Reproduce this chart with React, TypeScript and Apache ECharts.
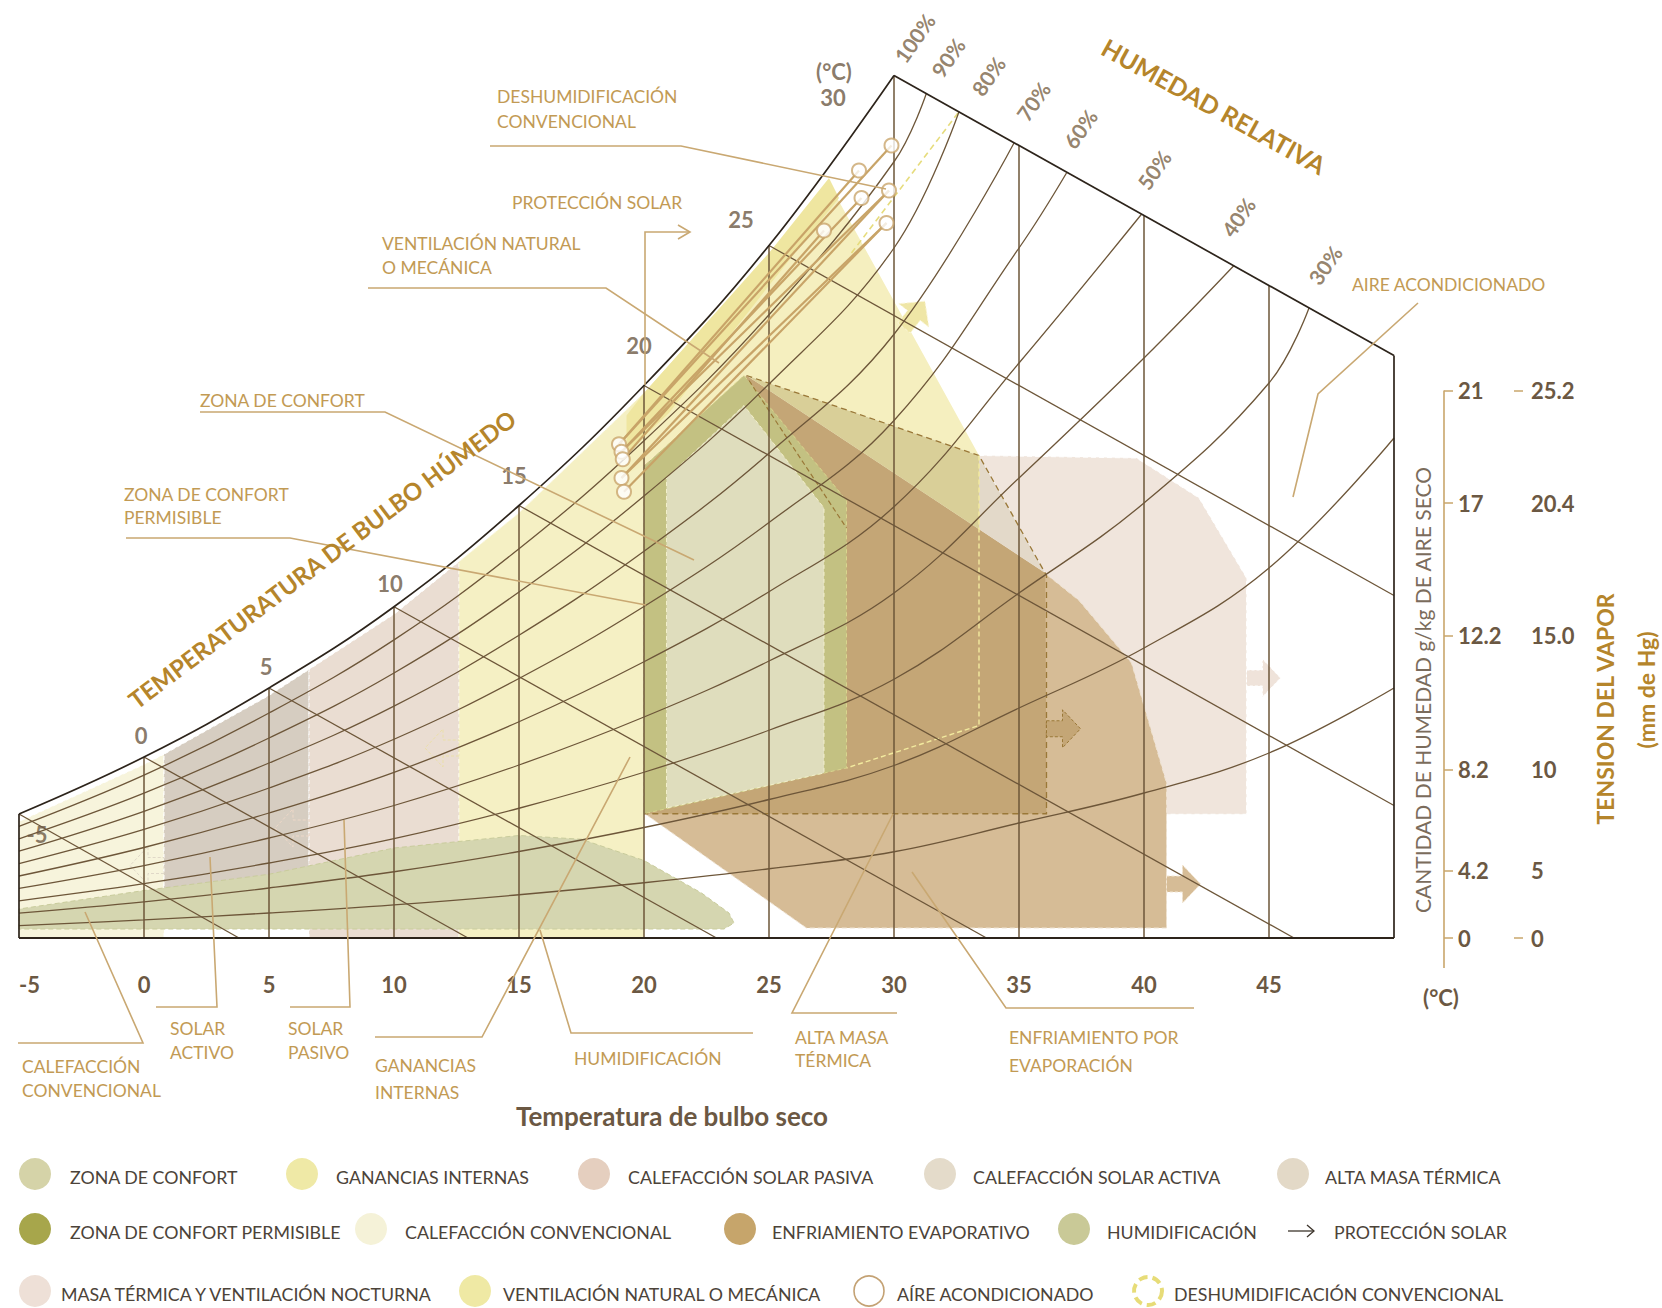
import React, { useEffect, useRef } from "react";
import * as echarts from "echarts";

const FONT = "Lato, 'Open Sans', 'DejaVu Sans', sans-serif";

/* ================= DATA ================= */
// dry-bulb temperature ticks (°C)
const dryBulbTicks = [-5, 0, 5, 10, 15, 20, 25, 30, 35, 40, 45];

// saturation curve (100 % RH): dry-bulb temperature and moisture level (chart units)
const satT = [-5, 0, 5, 10, 15, 20, 25, 30, 35, 40, 45, 50];
const satH = [4.96, 7.24, 10.0, 13.25, 17.3, 22.1, 27.7, 34.5, 46, 58, 74, 100];

// chart frame: 30 °C wet-bulb line on top, axes
const topEdge = [[30, 34.5], [50, 23.3]];
const frameBottom = [[-5, 0], [50, 0]];
const frameLeft = [[-5, 0], [-5, 4.96]];
const frameRight = [[50, 0], [50, 23.3]];

// relative humidity curves and the point where each one stops
const rhLevels = [90, 80, 70, 60, 50, 40, 30, 20, 10];
const rhEnds = [[31.3, 33.8], [32.6, 33.05], [34.8, 31.8], [36.9, 30.6], [39.9, 28.95], [43.6, 26.9], [46.6, 25.2], [50, 20], [50, 10]];
const rhLabels = ["100%", "90%", "80%", "70%", "60%", "50%", "40%", "30%"];

// wet-bulb lines (start on saturation curve at satT, end points read)
const wetBulbT = [-5, 0, 5, 10, 15, 20, 25];
const wetBulbEnds = [[3.8, 0], [12.96, 0], [22.9, 0], [33.7, 0], [46, 0], [50, 5.3], [50, 13.7]];
const wetBulbLabels = ["-5", "0", "5", "10", "15", "20", "25", "30", "(°C)"];

// dry-bulb vertical lines and their top ends
const dryBulbLineT = [0, 5, 10, 15, 20, 25, 30, 35, 40, 45];
const dryBulbLineTop = [7.24, 10.0, 13.25, 17.3, 22.1, 27.7, 34.5, 31.7, 28.9, 26.1];

// right-hand scales
const scaleLevels = [0, 2.7, 6.75, 12.1, 17.4, 21.9];
const humidityLabels = ["0", "4.2", "8.2", "12.2", "17", "21"];
const vaporLabels = ["0", "5", "10", "15.0", "20.4", "25.2"];
const humidityAxisT = 52;
const vaporAxisT = 54.8;
const scaleAxisRange = [-1.2, 21.9];

// bioclimatic zones (dry-bulb °C, moisture level)
const zoneCalefConv = [[-5, 0], [-5, 4.66], [0, 6.94], [0.8, 7.35], [0.8, 0]];
const zoneSolarActiva = [[0.8, 0.4], [0.8, 7.35], [5, 9.7], [6.6, 10.74], [6.6, 0.4]];
const zoneSolarPasiva = [[6.6, 0], [6.6, 10.74], [10, 12.95], [12.6, 15.05], [12.6, 0]];
const zoneGanancias = [[12.6, 0], [12.6, 15.05], [15, 17.0], [20, 21.8], [20, 0]];
const zoneHumid = [[-5, 0.36], [-5, 1.16], [0, 1.9], [5, 2.55], [10, 3.6], [15, 4.1], [17.5, 3.95], [20, 3.1], [22.3, 1.8], [23.4, 1.0], [23.6, 0.6], [23.2, 0.36]];
const zoneNocturna = [[33.4, 19.3], [39.7, 19.2], [42.2, 17.6], [44.1, 14.4], [44.1, 4.95], [36.1, 4.95], [36.1, 14.5]];
const zoneEvap = [[24.4, 22.3], [35.9, 14.7], [37.4, 13.5], [39.5, 11.0], [40.9, 6.2], [40.9, 0.4], [26.5, 0.4], [20, 5.0], [20, 18.9]];
const zoneMasaEvap = [[20, 4.97], [20, 18.9], [24.1, 22.5], [24.4, 22.3], [36.05, 14.6], [36.1, 4.97]];
const zoneMasaOnly = [[33.4, 19.3], [36.05, 14.6], [33.4, 16.35]];
const zoneVentMasa = [[24.1, 22.5], [33.4, 19.3], [33.4, 16.35], [24.4, 22.3]];
const zoneVent = [[19.4, 21.2], [20, 21.8], [25, 27.4], [27.56, 29.9], [33.4, 19.3], [24.1, 22.5], [20, 18.9], [19.4, 18.6]];
const zoneDeshum = [[19.3, 20.9], [20, 21.8], [25, 27.4], [27.4, 30.4], [27.8, 29.6], [25, 26.1], [21, 21.0], [19.3, 19.4]];
const zonePermisible = [[20, 4.97], [20, 18.87], [24.0, 22.5], [28.1, 17.5], [28.1, 6.8]];
const zoneConfort = [[20.9, 5.2], [20.9, 18.4], [24.0, 21.3], [27.2, 17.2], [27.2, 6.6]];
const outlineMasa = [[24.1, 22.5], [33.4, 19.3], [36.1, 14.5], [36.1, 4.97], [20, 4.97]];
const outlineMasaDiag = [[24.2, 22.3], [28.1, 16.4]];
const outlineVent = [[33.4, 19.3], [33.4, 8.5], [28.1, 6.8]];
const outlineDeshum = [[32.56, 33.0], [28.3, 27.4]];

// zone extension arrows: tail point and direction (degrees)
const arrowStarts = [[36.1, 8.37], [44.1, 10.4], [40.9, 2.16], [30.4, 24.4], [12.6, 7.6], [6.6, 4.4], [0.8, 2.9]];
const arrowAngles = [0, 0, 0, 52, 180, 180, 180];

// air-conditioning process lines
const acLow = [[19.0, 19.75], [19.1, 19.45], [19.15, 19.15], [19.1, 18.4], [19.2, 17.85]];
const acHigh = [[29.9, 31.7], [28.6, 30.7], [29.8, 29.9], [28.7, 29.6], [27.2, 28.3], [29.7, 28.6]];
const acLinks = [[0, 0], [0, 1], [1, 3], [2, 4], [1, 2], [3, 5], [4, 5], [3, 2]];

/* ================= LAYOUT / STYLE ================= */
const PX = 25; // px per °C
const X_MIN = -5, X_MAX = 52, Y_MIN = -1.2, Y_MAX = 36;
const GRID_LEFT = 19, GRID_TOP = 38;
const W = 1662, H = 1308;
const GRID_RIGHT = W - (GRID_LEFT + (X_MAX - X_MIN) * PX);
const GRID_BOTTOM = H - (GRID_TOP + (Y_MAX - Y_MIN) * PX);

const COL = {
  line: "#6d5639",
  frame: "#2d241b",
  gold: "#b5852b",
  num: "#6b5843",
  rhNum: "#7a6447",
  annText: "#c29a54",
  annLine: "#c9a872",
  legendText: "#4c4339",
  tanAxis: "#c9a66b",
};

const rhLabelPos = [[30.82, 36.0], [32.16, 35.22], [33.77, 34.48], [35.57, 33.47], [37.45, 32.37], [40.4, 30.73], [43.77, 28.84], [47.24, 26.92]];
const wetLabelOffset = [[18, 20], [-3, -22], [-3, -22], [-4, -23], [-5, -30], [-5, -40], [-28, -26], [-61, 22], [-60, -4]];

const arrowStyles = [
  { fill: "#c4a676", stroke: "#9a7838" },
  { fill: "#efe3da", stroke: "#ffffff" },
  { fill: "#d6bc96", stroke: "#f3e6d2" },
  { fill: "#efe6a6", stroke: "#fbf6d8" },
  { fill: "none", stroke: "#eadfa8" },
  { fill: "none", stroke: "#eed8c8" },
  { fill: "none", stroke: "#e0d8c8" },
];

const annotations = [
  { lines: ["DESHUMIDIFICACIÓN", "CONVENCIONAL"], x: 497, y: [96, 121], leader: [[490, 146], [681, 146], [886, 189]] },
  { lines: ["PROTECCIÓN SOLAR"], x: 512, y: [202], leader: [[645, 385], [645, 232], [690, 232]], arrow: true },
  { lines: ["VENTILACIÓN NATURAL", "O MECÁNICA"], x: 382, y: [243, 267], leader: [[368, 288], [606, 288], [719, 363]] },
  { lines: ["ZONA DE CONFORT"], x: 200, y: [400], leader: [[200, 412], [385, 412], [694, 560]] },
  { lines: ["ZONA DE CONFORT", "PERMISIBLE"], x: 124, y: [494, 517], leader: [[126, 538], [290, 538], [646, 605]] },
  { lines: ["AIRE ACONDICIONADO"], x: 1352, y: [284], leader: [[1418, 303], [1318, 394], [1293, 497]] },
  { lines: ["CALEFACCIÓN", "CONVENCIONAL"], x: 22, y: [1066, 1090], leader: [[18, 1043], [143, 1043], [85, 912]] },
  { lines: ["SOLAR", "ACTIVO"], x: 170, y: [1028, 1052], leader: [[156, 1007], [217, 1007], [210, 857]] },
  { lines: ["SOLAR", "PASIVO"], x: 288, y: [1028, 1052], leader: [[290, 1007], [350, 1007], [344, 820]] },
  { lines: ["GANANCIAS", "INTERNAS"], x: 375, y: [1065, 1092], leader: [[375, 1037], [482, 1037], [630, 757]] },
  { lines: ["HUMIDIFICACIÓN"], x: 574, y: [1058], leader: [[753, 1033], [571, 1033], [540, 930]] },
  { lines: ["ALTA MASA", "TÉRMICA"], x: 795, y: [1037, 1060], leader: [[897, 1013], [792, 1013], [893, 814]] },
  { lines: ["ENFRIAMIENTO POR", "EVAPORACIÓN"], x: 1009, y: [1037, 1065], leader: [[1194, 1008], [1006, 1008], [912, 872]] },
];

const legendNames = [
  ["ZONA DE CONFORT", "GANANCIAS INTERNAS", "CALEFACCIÓN SOLAR PASIVA", "CALEFACCIÓN SOLAR ACTIVA", "ALTA MASA TÉRMICA"],
  ["ZONA DE CONFORT PERMISIBLE", "CALEFACCIÓN CONVENCIONAL", "ENFRIAMIENTO EVAPORATIVO", "HUMIDIFICACIÓN", "PROTECCIÓN SOLAR"],
  ["MASA TÉRMICA Y VENTILACIÓN NOCTURNA", "VENTILACIÓN NATURAL O MECÁNICA", "AÍRE ACONDICIONADO", "DESHUMIDIFICACIÓN CONVENCIONAL"],
];
const legendSwatches = [
  ["#d5d3a8", "#efe9a6", "#e5cfbf", "#e4dbca", "#e3d9c7"],
  ["#a7a64b", "#f5f2d8", "#c6a56b", "#c9c997", "arrow"],
  ["#eee0d7", "#efe9a4", "ring", "dashedRing"],
];
const legendRowY = [1174, 1229, 1291];
const legendCircleX = [[35, 302, 594, 940, 1293], [35, 371, 740, 1074, 1301], [35, 475, 869, 1148]];
const legendTextX = [[70, 336, 628, 973, 1325], [70, 405, 772, 1107, 1334], [61, 503, 897, 1174]];

/* ================= BUILD ================= */
function nearestIdx(v: number) {
  let best = 0;
  scaleLevels.forEach((l, i) => {
    if (Math.abs(l - v) < Math.abs(scaleLevels[best] - v)) best = i;
  });
  return best;
}

function shapeSeries(items: any[], z: number) {
  return {
    type: "custom",
    coordinateSystem: "cartesian2d",
    z,
    silent: true,
    clip: false,
    data: items.map((it, i) => [it.pts[0][0], it.pts[0][1], i]),
    encode: { x: 0, y: 1 },
    renderItem: (params: any, api: any) => {
      const it = items[params.dataIndex];
      const points = it.pts.map((p: number[]) => api.coord(p));
      return {
        type: it.open ? "polyline" : "polygon",
        shape: { points },
        silent: true,
        style: {
          fill: it.open ? "none" : it.fill,
          stroke: it.stroke || "none",
          lineWidth: it.lw ?? 1,
          lineDash: it.dash || null,
          opacity: it.opacity ?? 1,
        },
      };
    },
  };
}

function lineS(data: number[][], color: string, width: number, smooth: any = false, z = 3) {
  return {
    type: "line",
    data,
    symbol: "none",
    silent: true,
    smooth,
    clip: false,
    lineStyle: { color, width },
    z,
  };
}

function buildOption() {
  const zoneItems = [
    { pts: zoneCalefConv, fill: "#f7f4dc", stroke: "#ffffff", dash: [4, 3] },
    { pts: zoneSolarActiva, fill: "#d6cdc1", stroke: "#ffffff", dash: [4, 3] },
    { pts: zoneSolarPasiva, fill: "#eaddd2", stroke: "#ffffff", dash: [4, 3] },
    { pts: zoneGanancias, fill: "#f5f0c4", stroke: "#fbf8e2", dash: [4, 3] },
    { pts: zoneHumid, fill: "#d5d6b0", stroke: "#c9cc9c", dash: [5, 3] },
    { pts: zoneNocturna, fill: "#f0e5dc", stroke: "#ffffff", dash: [5, 3] },
    { pts: zoneEvap, fill: "#d6bc96", stroke: "#efe3d2", dash: [5, 3] },
    { pts: zoneMasaEvap, fill: "#c4a676" },
    { pts: zoneMasaOnly, fill: "#e3d9c9" },
    { pts: zoneVent, fill: "#f5efbf" },
    { pts: zoneVentMasa, fill: "#d9cf98" },
    { pts: zoneDeshum, fill: "#efe6a0" },
    { pts: outlineMasa, open: true, stroke: "#9a7838", dash: [6, 4], lw: 1.3 },
    { pts: outlineVent, open: true, stroke: "#f2ea9e", dash: [5, 3], lw: 1.4 },
    { pts: zonePermisible, fill: "#c3c182", stroke: "#d8d58e", dash: [4, 3] },
    { pts: zoneConfort, fill: "#dfddbd", stroke: "#f2efcc", dash: [4, 3] },
    { pts: outlineMasaDiag, open: true, stroke: "#9a7838", dash: [5, 3], lw: 1.2 },
    { pts: outlineDeshum, open: true, stroke: "#e6dc7c", dash: [6, 4], lw: 1.6 },
  ];

  const series: any[] = [];
  series.push(shapeSeries(zoneItems, 1));

  // block arrows
  series.push({
    type: "custom",
    coordinateSystem: "cartesian2d",
    z: 2,
    silent: true,
    clip: false,
    data: arrowStarts.map((p, i) => [p[0], p[1], i]),
    encode: { x: 0, y: 1 },
    renderItem: (params: any, api: any) => {
      const i = params.dataIndex;
      const st = arrowStyles[i];
      const [x, y] = api.coord(arrowStarts[i]);
      const th = (arrowAngles[i] * Math.PI) / 180;
      const c = Math.cos(th), s = Math.sin(th);
      const local = [[0, -8], [16, -8], [16, -19], [34, 0], [16, 19], [16, 8], [0, 8]];
      const pts = local.map(([lx, ly]) => [x + lx * c + ly * s, y - lx * s + ly * c]);
      return {
        type: "polygon",
        shape: { points: pts },
        style: { fill: st.fill, stroke: st.stroke, lineDash: [3, 2], lineWidth: 1 },
      };
    },
  });

  // dry-bulb verticals
  dryBulbLineT.forEach((t, i) => series.push(lineS([[t, 0], [t, dryBulbLineTop[i]]], COL.line, 1.5)));
  // RH curves
  rhLevels.forEach((lv, i) => {
    const end = rhEnds[i];
    const pts = satT.map((t, j) => [t, (lv / 100) * satH[j]]).filter((p) => p[0] < end[0] - 0.01);
    pts.push(end);
    series.push(lineS(pts, COL.line, 1.3, 0.4));
  });
  // wet-bulb lines
  wetBulbT.forEach((t, i) => {
    const j = satT.indexOf(t);
    series.push(lineS([[t, satH[j]], wetBulbEnds[i]], COL.line, 1.3));
  });
  // frame
  series.push(lineS(satT.slice(0, 8).map((t, i) => [t, satH[i]]), COL.frame, 1.7, 0.4));
  series.push(lineS(topEdge, COL.frame, 1.7));
  series.push(lineS(frameBottom, COL.frame, 1.8));
  series.push(lineS(frameLeft, COL.frame, 1.7));
  series.push(lineS(frameRight, COL.frame, 1.7));
  // right scale lines
  series.push(lineS([[humidityAxisT, scaleAxisRange[0]], [humidityAxisT, scaleAxisRange[1]]], COL.tanAxis, 1.6));
  series.push(lineS([[vaporAxisT, scaleAxisRange[0]], [vaporAxisT, scaleAxisRange[1]]], COL.tanAxis, 1.6));

  // air conditioning lines & circles
  series.push(
    shapeSeries(
      acLinks.map(([a, b]) => ({ pts: [acLow[a], acHigh[b]], open: true, stroke: "#c8a468", lw: 2.2 })),
      4
    )
  );
  series.push({
    type: "scatter",
    z: 5,
    silent: true,
    clip: false,
    symbolSize: 14,
    itemStyle: { color: "#ffffff", borderColor: "#c9a56b", borderWidth: 2 },
    data: [...acLow, ...acHigh],
  });

  // wet-bulb labels
  const wetAnchors = [...satT.slice(0, 8).map((t, i) => [t, satH[i]]), [satT[7], satH[7]]];
  series.push({
    type: "scatter",
    z: 6,
    silent: true,
    clip: false,
    symbolSize: 1,
    itemStyle: { color: "rgba(0,0,0,0)" },
    label: { show: true, position: "inside", color: COL.num, fontSize: 22, fontWeight: "bold", fontFamily: FONT },
    data: wetAnchors.map((p, i) => ({
      value: p,
      label: { formatter: wetBulbLabels[i], offset: wetLabelOffset[i] },
    })),
  });
  // RH labels
  series.push({
    type: "scatter",
    z: 6,
    silent: true,
    clip: false,
    symbolSize: 1,
    itemStyle: { color: "rgba(0,0,0,0)" },
    label: { show: true, position: "inside", rotate: 55, color: COL.rhNum, fontSize: 21, fontWeight: "bold", fontFamily: FONT },
    data: rhLabelPos.map((p, i) => ({ value: p, label: { formatter: rhLabels[i] } })),
  });

  /* ---------- graphics ---------- */
  const g: any[] = [];
  const txt = (text: string, x: number, y: number, opts: any = {}) => ({
    type: "text",
    x,
    y,
    rotation: opts.rotation || 0,
    silent: true,
    z: 10,
    style: {
      text,
      fill: opts.fill || COL.annText,
      fontSize: opts.fontSize || 17.5,
      fontWeight: opts.fontWeight || "normal",
      fontFamily: FONT,
      align: opts.align || "left",
      verticalAlign: "middle",
      textAlign: opts.align || "left",
      textVerticalAlign: "middle",
    },
  });

  g.push(txt("TEMPERATURATURA DE BULBO HÚMEDO", 322, 559, { rotation: (37 * Math.PI) / 180, fill: COL.gold, fontSize: 24, fontWeight: "bold", align: "center" }));
  g.push(txt("HUMEDAD RELATIVA", 1214, 106, { rotation: (-29 * Math.PI) / 180, fill: COL.gold, fontSize: 25, fontWeight: "bold", align: "center" }));
  g.push(txt("CANTIDAD DE HUMEDAD g/kg DE AIRE SECO", 1422, 690, { rotation: Math.PI / 2, fill: "#7b6c5c", fontSize: 21, align: "center" }));
  g.push(txt("TENSION DEL VAPOR", 1605, 709, { rotation: Math.PI / 2, fill: COL.gold, fontSize: 23, fontWeight: "bold", align: "center" }));
  g.push(txt("(mm de Hg)", 1646, 690, { rotation: Math.PI / 2, fill: COL.gold, fontSize: 23, fontWeight: "bold", align: "center" }));
  g.push(txt("(°C)", 1441, 997, { fill: COL.num, fontSize: 22, fontWeight: "bold", align: "center" }));
  g.push(txt("Temperatura de bulbo seco", 672, 1116, { fill: COL.num, fontSize: 26, fontWeight: "bold", align: "center" }));

  annotations.forEach((a) => {
    a.lines.forEach((l, k) => g.push(txt(l, a.x, a.y[k])));
    g.push({
      type: "polyline",
      silent: true,
      z: 9,
      shape: { points: a.leader },
      style: { stroke: COL.annLine, lineWidth: 1.6, fill: "none" },
    });
    if (a.arrow) {
      const [ex, ey] = a.leader[a.leader.length - 1];
      g.push({
        type: "polyline",
        silent: true,
        z: 9,
        shape: { points: [[ex - 12, ey - 7], [ex, ey], [ex - 12, ey + 7]] },
        style: { stroke: COL.annLine, lineWidth: 1.6, fill: "none" },
      });
    }
  });

  legendNames.forEach((row, r) =>
    row.forEach((name, k) => {
      const cx = legendCircleX[r][k];
      const cy = legendRowY[r];
      const sw = legendSwatches[r][k];
      if (sw === "arrow") {
        g.push({ type: "line", silent: true, shape: { x1: cx - 13, y1: cy + 2, x2: cx + 13, y2: cy + 2 }, style: { stroke: "#3d352c", lineWidth: 1.3 } });
        g.push({ type: "polyline", silent: true, shape: { points: [[cx + 6, cy - 4], [cx + 13, cy + 2], [cx + 6, cy + 8]] }, style: { stroke: "#3d352c", lineWidth: 1.3, fill: "none" } });
      } else if (sw === "ring") {
        g.push({ type: "circle", silent: true, shape: { cx, cy, r: 15 }, style: { fill: "#ffffff", stroke: "#c4a274", lineWidth: 1.6 } });
      } else if (sw === "dashedRing") {
        g.push({ type: "circle", silent: true, shape: { cx, cy, r: 14 }, style: { fill: "#ffffff", stroke: "#e7dc78", lineWidth: 4, lineDash: [9, 5] } });
      } else {
        g.push({ type: "circle", silent: true, shape: { cx, cy, r: 16 }, style: { fill: sw } });
      }
      g.push(txt(name, legendTextX[r][k], cy + 3, { fill: COL.legendText, fontSize: 17.8 }));
    })
  );

  return {
    animation: false,
    backgroundColor: "#ffffff",
    grid: {
      left: GRID_LEFT,
      top: GRID_TOP,
      right: GRID_RIGHT,
      bottom: GRID_BOTTOM,
      containLabel: false,
      outerBoundsMode: "none",
    },
    xAxis: {
      type: "value",
      min: X_MIN,
      max: X_MAX,
      axisLine: { show: false },
      axisTick: { show: false },
      splitLine: { show: false },
      axisLabel: {
        customValues: dryBulbTicks,
        formatter: (v: number) => String(v),
        margin: 5,
        alignMinLabel: "left",
        color: COL.num,
        fontSize: 22,
        fontWeight: "bold",
        fontFamily: FONT,
      },
    },
    yAxis: [
      { type: "value", min: Y_MIN, max: Y_MAX, show: false },
      {
        type: "value",
        min: Y_MIN,
        max: Y_MAX,
        position: "right",
        offset: 0,
        axisLine: { show: false },
        splitLine: { show: false },
        axisTick: { show: true, customValues: scaleLevels, length: 9, lineStyle: { color: COL.tanAxis, width: 1.5 } },
        axisLabel: {
          customValues: scaleLevels,
          formatter: (v: number) => humidityLabels[nearestIdx(v)],
          margin: 14,
          color: COL.num,
          fontSize: 22,
          fontWeight: "bold",
          fontFamily: FONT,
        },
      },
      {
        type: "value",
        min: Y_MIN,
        max: Y_MAX,
        position: "right",
        offset: (vaporAxisT - humidityAxisT) * PX,
        axisLine: { show: false },
        splitLine: { show: false },
        axisTick: { show: true, customValues: [scaleLevels[0], scaleLevels[5]], length: 9, lineStyle: { color: COL.tanAxis, width: 1.5 } },
        axisLabel: {
          customValues: scaleLevels,
          formatter: (v: number) => vaporLabels[nearestIdx(v)],
          margin: 17,
          color: COL.num,
          fontSize: 22,
          fontWeight: "bold",
          fontFamily: FONT,
        },
      },
    ],
    series,
    graphic: { elements: g },
  };
}

export default function App() {
  const ref = useRef<HTMLDivElement>(null);
  useEffect(() => {
    document.body.style.margin = "0";
    const chart = echarts.init(ref.current as HTMLDivElement, null, { renderer: "svg" });
    chart.setOption(buildOption() as any);
    return () => chart.dispose();
  }, []);
  return <div ref={ref} style={{ width: W, height: H, background: "#fff" }} />;
}
